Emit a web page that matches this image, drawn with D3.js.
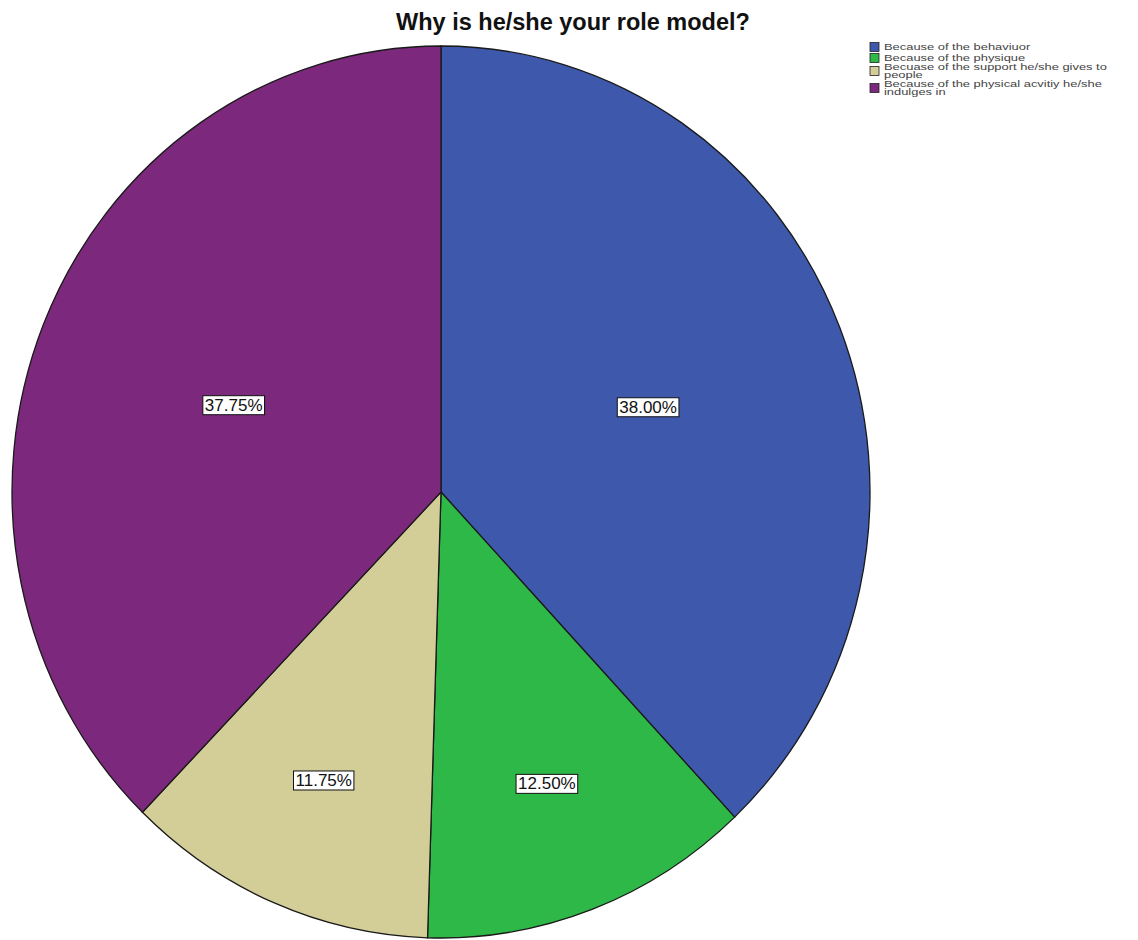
<!DOCTYPE html>
<html><head><meta charset="utf-8">
<script src="https://cdn.jsdelivr.net/npm/d3@7"></script>
<style>body{margin:0;background:#fff}</style>
</head><body>
<svg id="c" width="1138" height="940"></svg>
<script>
const categories = ["Because of the behaviuor","Because of the physique","Becuase of the support he/she gives to people","Because of the physical acvitiy he/she indulges in"];
const legendLines = [["Because of the behaviuor"],["Because of the physique"],["Becuase of the support he/she gives to","people"],["Because of the physical acvitiy he/she","indulges in"]];
const values = [38.00, 12.50, 11.75, 37.75];
const labels = ["38.00%","12.50%","11.75%","37.75%"];
const colors = ["#3E58AC","#2EB848","#D3CE97","#7C287D"];
const title = "Why is he/she your role model?";

const svg = d3.select("#c");
const cx = 441, cy = 492, R = 429, ry = 446, sy = ry / R;

svg.append("text").attr("x", 573).attr("y", 30).attr("text-anchor","middle")
  .attr("font-family","Liberation Sans, Arial, sans-serif").attr("font-weight","bold")
  .attr("font-size", 23.5).attr("fill","#111").text(title);

const pie = d3.pie().sort(null).value(d => d)(values);
const arc = d3.arc().innerRadius(0).outerRadius(R);
const g = svg.append("g").attr("transform", `translate(${cx},${cy}) scale(1,${sy})`);
g.selectAll("path").data(pie).join("path")
  .attr("d", arc).attr("fill", (d,i) => colors[i])
  .attr("stroke", "#1a1a1a").attr("stroke-width", 1.3).attr("vector-effect","non-scaling-stroke");

// labels near sector area centroid
const lg = svg.append("g").attr("transform", `translate(${cx},${cy})`);
pie.forEach((d,i) => {
  const a = (d.endAngle - d.startAngle) / 2;
  const m = (d.startAngle + d.endAngle) / 2;
  const cdist = 2 * R * Math.sin(a) / (3 * a);
  const dist = cdist * (1 + 0.3 * Math.max(0, (cdist - 223) / 223));
  const x = dist * Math.sin(m);
  const y = -dist * Math.cos(m) * sy;
  const t = lg.append("text").attr("x", x).attr("y", y + 6).attr("text-anchor","middle")
    .attr("font-family","Liberation Sans, Arial, sans-serif").attr("font-size", 17)
    .attr("fill","#111").text(labels[i]);
  const bb = t.node().getBBox();
  lg.insert("rect", "text").attr("x", bb.x - 2).attr("y", bb.y).attr("width", bb.width + 4)
    .attr("height", bb.height).attr("fill","#fff").attr("stroke","#111").attr("stroke-width",1);
});

// legend
const leg = svg.append("g");
const rowY = [47, 58, 71, 88];
legendLines.forEach((lines, i) => {
  leg.append("rect").attr("x", 870).attr("y", rowY[i] - 4.5).attr("width", 9).attr("height", 9)
    .attr("fill", colors[i]).attr("stroke","#222").attr("stroke-width",0.8);
  const top = rowY[i] - (lines.length - 1) * 4;
  lines.forEach((ln, j) => {
    leg.append("text").attr("transform", `translate(884,${top + j * 8 + 3}) scale(1.5,1)`)
      .attr("font-family","Liberation Sans, Arial, sans-serif").attr("font-size", 8.6)
      .attr("fill","#444").text(ln);
  });
});
</script>
</body></html>
